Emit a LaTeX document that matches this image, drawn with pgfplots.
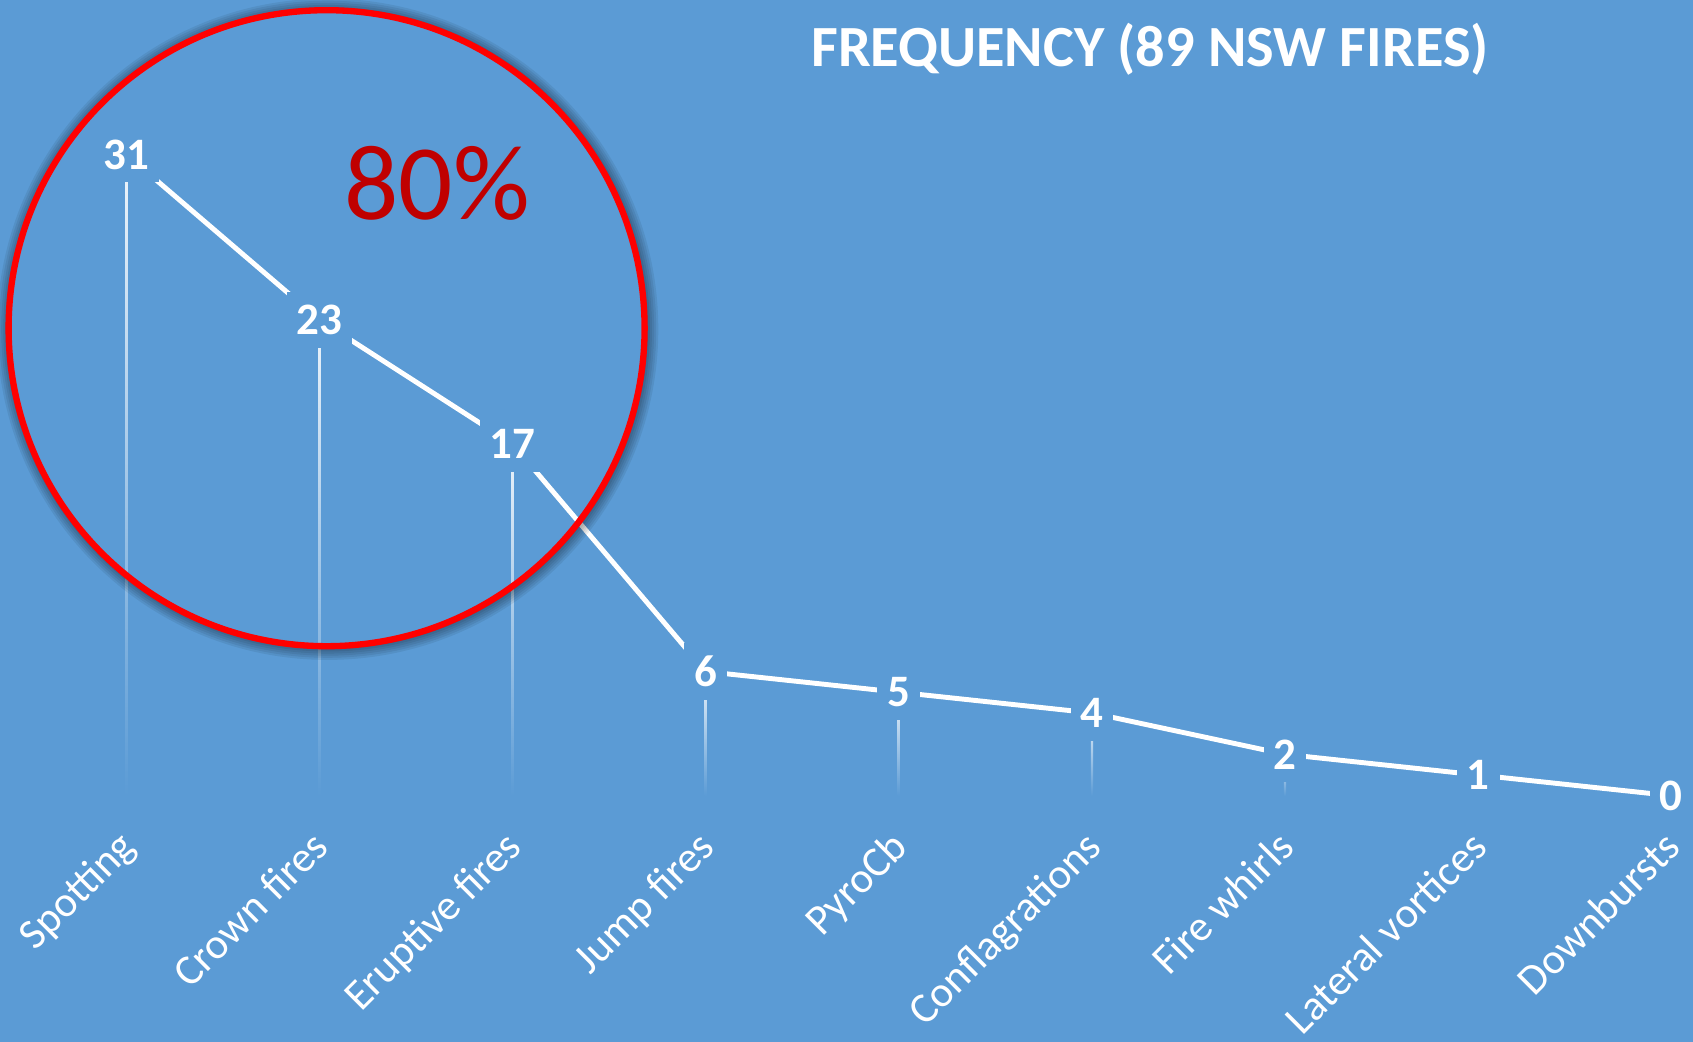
\documentclass[border=0pt]{standalone}
\usepackage{pgfplots}
\pgfplotsset{compat=1.18}
\usepackage{fontspec}
\setmainfont{Carlito}
\definecolor{bg}{HTML}{5B9BD5}
\definecolor{darkred}{HTML}{C00000}
\begin{document}
\begin{tikzpicture}
\fill[bg] (0,0) rectangle (16.93,10.42);
\begin{axis}[
  at={(1.263cm,2.463cm)}, anchor=south west,
  scale only axis, width=15.451cm, height=6.413cm,
  xmin=0, xmax=8, ymin=0, ymax=31,
  clip=false,
  axis line style={draw=none},
  major tick length=0pt,
  ytick=\empty,
  xtick={0,...,8},
  xticklabels={Spotting, Crown fires, Eruptive fires, Jump fires, PyroCb, Conflagrations, Fire whirls, Lateral vortices, Downbursts},
  xticklabel style={xshift=-0.1cm, font=\fontsize{12.2}{15}\selectfont, text=white, rotate=45, anchor=north east, inner sep=0pt},
  xticklabel shift=0.32cm,
  /pgf/number format/assume math mode=true,
]
\addplot[ybar, bar width=0.022cm, draw=none, top color=white!90!bg, bottom color=bg] coordinates {(0,31)};
\addplot[ybar, bar width=0.022cm, draw=none, top color=white!90!bg, bottom color=bg] coordinates {(1,23)};
\addplot[ybar, bar width=0.022cm, draw=none, top color=white!90!bg, bottom color=bg] coordinates {(2,17)};
\addplot[ybar, bar width=0.022cm, draw=none, top color=white!90!bg, bottom color=bg] coordinates {(3,6)};
\addplot[ybar, bar width=0.022cm, draw=none, top color=white!90!bg, bottom color=bg] coordinates {(4,5)};
\addplot[ybar, bar width=0.022cm, draw=none, top color=white!90!bg, bottom color=bg] coordinates {(5,4)};
\addplot[ybar, bar width=0.022cm, draw=none, top color=white!90!bg, bottom color=bg] coordinates {(6,2)};
\addplot[ybar, bar width=0.022cm, draw=none, top color=white!90!bg, bottom color=bg] coordinates {(7,1)};
\addplot[white, line width=1.4pt, mark=none, nodes near coords,
  every node near coord/.append style={anchor=center, fill=bg, text=white,
    font=\fontsize{12.8}{15}\selectfont\bfseries, inner xsep=0.1cm, inner ysep=0.13cm}]
  coordinates {(0,31) (1,23) (2,17) (3,6) (4,5) (5,4) (6,2) (7,1) (8,0)};
\end{axis}
% shadow and circle
\foreach \i in {1,...,6}{
  \draw[black, opacity=0.07, line width=0.6*\i pt] (3.266cm+0.3pt,7.138cm-0.3pt) circle[radius=3.18cm+0.3*\i pt];
}
\draw[red, line width=1.8pt] (3.266,7.138) circle[radius=3.18cm];
\node[anchor=base, inner sep=0pt, text=darkred, font=\fontsize{30.5}{36}\selectfont] at (4.37,8.228) {80\%};
\node[anchor=base, inner sep=0pt, text=white, font=\fontsize{16.6}{19}\selectfont\bfseries] at (11.50,9.751) {FREQUENCY (89 NSW FIRES)};
\pgfresetboundingbox
\useasboundingbox (0,0) rectangle (16.93,10.42);
\end{tikzpicture}
\end{document}
